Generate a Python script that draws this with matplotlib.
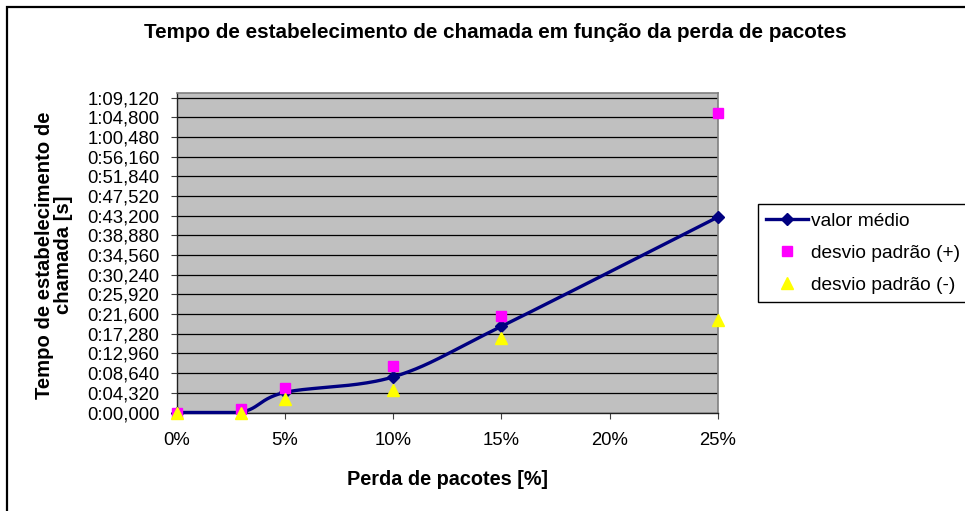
import numpy as np
import matplotlib
matplotlib.use("Agg")
import matplotlib.pyplot as plt
from matplotlib.ticker import MultipleLocator, FuncFormatter
from matplotlib.patches import Rectangle
from matplotlib.lines import Line2D

plt.rcParams['font.family'] = ['Liberation Sans', 'DejaVu Sans']

# ---- data ----
loss_pct = [0, 3, 5, 10, 15, 25]
mean_s = [0.0, 0.1, 4.4, 7.8, 18.9, 42.9]
plus_s = [0.0, 0.7, 5.4, 10.2, 21.1, 65.7]
minus_s = [0.0, 0.0, 3.0, 5.0, 16.4, 20.2]
x_ticks = [0, 5, 10, 15, 20, 25]
y_major_unit = 4.32
title = "Tempo de estabelecimento de chamada em função da perda de pacotes"
xlabel = "Perda de pacotes [%]"
ylabel = "Tempo de estabelecimento de\nchamada [s]"
series_names = ["valor médio", "desvio padrão (+)", "desvio padrão (-)"]


def excel_smooth(xs, ys, n=40):
    """Catmull-Rom style Bezier smoothing similar to Excel's smoothed line."""
    xs = np.asarray(xs, float)
    ys = np.asarray(ys, float)
    P = np.column_stack([xs, ys])
    out = []
    for i in range(len(P) - 1):
        p0 = P[i - 1] if i > 0 else P[i]
        p1 = P[i]
        p2 = P[i + 1]
        p3 = P[i + 2] if i + 2 < len(P) else P[i + 1]
        c1 = p1 + (p2 - p0) / 6.0
        c2 = p2 - (p3 - p1) / 6.0
        t = np.linspace(0, 1, n)[:, None]
        seg = ((1 - t) ** 3) * p1 + 3 * ((1 - t) ** 2) * t * c1 + 3 * (1 - t) * t ** 2 * c2 + t ** 3 * p2
        if i > 0:
            seg = seg[1:]
        out.append(seg)
    out = np.vstack(out)
    return out[:, 0], np.maximum(out[:, 1], 0.0)


def fmt_time(v, pos):
    ms = int(round(v * 1000))
    m = ms // 60000
    s = (ms % 60000) // 1000
    f = ms % 1000
    return f"{m}:{s:02d},{f:03d}"


W, H = 965, 511
fig = plt.figure(figsize=(W / 100, H / 100), dpi=100)
fig.patch.set_facecolor("white")

L, R, T, B = 176.5, 718, 93.5, 412.5
ax = fig.add_axes([L / W, 1 - B / H, (R - L) / W, (B - T) / H])
ax.set_facecolor("#C0C0C0")

navy = "#000080"
sx, sy = excel_smooth(loss_pct, mean_s)
ax.plot(sx, sy, color=navy, lw=2.4, zorder=3, clip_on=False, solid_capstyle="round")
ax.plot(loss_pct, mean_s, ls="none", marker="D", ms=6.5, color=navy, zorder=4, clip_on=False)
ax.plot(loss_pct, plus_s, ls="none", marker="s", ms=7.5, color="#FF00FF", mec="#FF00FF", zorder=5, clip_on=False)
ax.plot(loss_pct, minus_s, ls="none", marker="^", ms=8.5, color="#FFFF00", mec="#FFFF00", zorder=6, clip_on=False)

ax.set_xlim(0, 25)
ax.set_ylim(0, 69.12 + 4 / 4.557)
ax.set_xticks(x_ticks)
ax.set_xticklabels([f"{t}%" for t in x_ticks])
ax.yaxis.set_major_locator(MultipleLocator(y_major_unit))
ax.yaxis.set_major_formatter(FuncFormatter(fmt_time))
ax.grid(axis="y", color="black", lw=0.9, zorder=1)
ax.set_axisbelow(True)

ax.tick_params(axis="both", direction="out", length=4.3, width=0.8, colors="#404040",
               labelcolor="black", labelsize=13.3)
ax.tick_params(axis="x", pad=9.5)
ax.tick_params(axis="y", pad=8)

for side in ["left", "bottom"]:
    ax.spines[side].set_color("#202020")
    ax.spines[side].set_linewidth(1.0)
for side in ["top", "right"]:
    ax.spines[side].set_color("#808080")
    ax.spines[side].set_linewidth(1.2)

# titles
fig.text(495 / W, 1 - 33 / H, title, ha="center", va="center", fontsize=14.9, fontweight="bold")
fig.text(447.5 / W, 1 - 479 / H, xlabel, ha="center", va="center", fontsize=14.3, fontweight="bold")
fig.text(54 / W, 1 - 255 / H, ylabel, ha="center", va="center", rotation=90, fontsize=14.6,
         fontweight="bold", multialignment="center", linespacing=1.0)

# legend
handles = [
    Line2D([], [], color=navy, lw=2.4, marker="D", ms=6.5),
    Line2D([], [], ls="none", marker="s", ms=7.5, color="#FF00FF"),
    Line2D([], [], ls="none", marker="^", ms=8.5, color="#FFFF00"),
]
leg = fig.legend(handles, series_names, loc="upper left", mode="expand",
                 bbox_to_anchor=(757.7 / W, 1 - 301 / H, 0.3, 97 / H), borderaxespad=0,
                 fontsize=13.8, frameon=True, fancybox=False, framealpha=1,
                 edgecolor="black", handlelength=2.2, handletextpad=0.15,
                 labelspacing=0.75, borderpad=0.45)
leg.get_frame().set_linewidth(1.0)

# outer chart border
fig.patches.append(Rectangle((7 / W, -0.1), 1.2, 1 - 6.5 / H + 0.1, transform=fig.transFigure,
                             fill=False, edgecolor="black", lw=1.6, zorder=10))

fig.savefig("out.png", dpi=100)
